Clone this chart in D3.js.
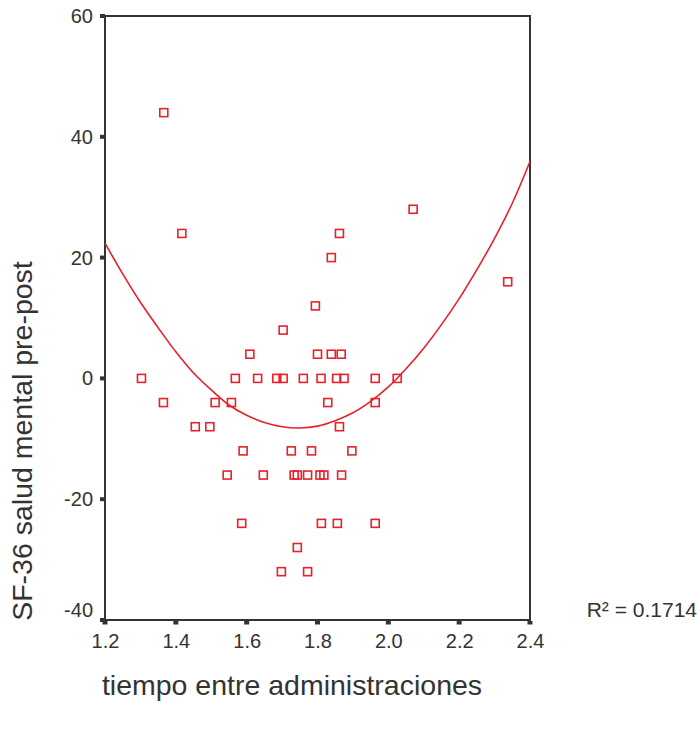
<!DOCTYPE html>
<html>
<head>
<meta charset="utf-8">
<script src="https://cdn.jsdelivr.net/npm/d3@7"></script>
<style>
  body { margin: 0; background: #fff; }
  text { font-family: "Liberation Sans", Arial, sans-serif; fill: #333; }
</style>
</head>
<body>
<div id="chart"></div>
<script>
/* --- データ --- */
const tiempo = [1.366, 1.417, 1.303, 1.365, 1.455, 1.496, 1.511, 1.557, 1.568, 1.609,
                1.631, 1.590, 1.545, 1.647, 1.586, 1.685, 1.703, 1.703, 1.698, 1.726,
                1.734, 1.743, 1.743, 1.760, 1.772, 1.772, 1.783, 1.794, 1.800, 1.810,
                1.807, 1.818, 1.811, 1.829, 1.839, 1.839, 1.862, 1.867, 1.854, 1.875,
                1.862, 1.868, 1.856, 1.897, 1.963, 1.963, 1.963, 2.025, 2.070, 2.337];
const saludMental = [44, 24, 0, -4, -8, -8, -4, -4, 0, 4,
                     0, -12, -16, -16, -24, 0, 0, 8, -32, -12,
                     -16, -16, -28, 0, -16, -32, -12, 12, 4, 0,
                     -16, -16, -24, -4, 20, 4, 24, 4, 0, 0,
                     -8, -16, -24, -12, 0, -4, -24, 0, 28, 16];

// curva cuadrática
const curvaX = [1.20, 1.25, 1.30, 1.35, 1.40, 1.45, 1.50, 1.55, 1.60, 1.65, 1.70, 1.75, 1.80,
                1.85, 1.90, 1.95, 2.00, 2.05, 2.10, 2.15, 2.20, 2.25, 2.30, 2.35, 2.40];
const curvaY = [22.4, 17.3, 12.6, 8.4, 4.4, 0.9, -1.9, -4.4, -6.1, -7.3, -8.0, -8.2, -7.9,
                -7.0, -5.7, -3.8, -1.4, 1.6, 5.0, 8.9, 13.2, 18.0, 23.2, 29.0, 35.9];

const xTicks = [1.2, 1.4, 1.6, 1.8, 2.0, 2.2, 2.4];
const yTicks = [-40, -20, 0, 20, 40, 60];
const r2Label = "R² = 0.1714";

/* --- ビューポート --- */
const width = 698, height = 729;
const margin = {top: 16, right: 168, bottom: 109, left: 105};

const svg = d3.select("#chart").append("svg")
    .attr("width", width)
    .attr("height", height);

const xScale = d3.scaleLinear().domain([1.2, 2.4]).range([margin.left, width - margin.right]);
const yScale = d3.scaleLinear().domain([-40, 60]).range([height - margin.bottom, margin.top]);

const axisColor = "#333";
const red = "#e8202a";

/*--- 枠 ---*/
svg.append("rect")
    .attr("x", xScale(1.2))
    .attr("y", yScale(60))
    .attr("width", xScale(2.4) - xScale(1.2))
    .attr("height", yScale(-40) - yScale(60))
    .attr("fill", "none")
    .attr("stroke", axisColor)
    .attr("stroke-width", 2);

/*--- 軸 ---*/
const xAxis = svg.append("g")
    .attr("transform", "translate(0," + yScale(-40) + ")")
    .call(d3.axisBottom(xScale).tickValues(xTicks).tickFormat(d3.format(".1f")).tickSize(0).tickPadding(14));
const yAxis = svg.append("g")
    .attr("transform", "translate(" + xScale(1.2) + ",0)")
    .call(d3.axisLeft(yScale).tickValues(yTicks).tickFormat(d => String(d)).tickSize(0).tickPadding(12));

[xAxis, yAxis].forEach(a => {
    a.select(".domain").remove();
    a.selectAll("text").attr("font-size", 20).attr("fill", axisColor)
        .style("font-family", "'Liberation Sans', Arial, sans-serif");
});
yAxis.selectAll(".tick").filter(d => d === -40).select("text").attr("dy", "-0.2em");

// marcas de graduación
svg.append("g").selectAll("rect")
    .data(xTicks)
    .join("rect")
    .attr("x", d => xScale(d) - 2.5)
    .attr("y", yScale(-40) + 1)
    .attr("width", 5)
    .attr("height", 3.5)
    .attr("fill", axisColor);
svg.append("g").selectAll("rect")
    .data(yTicks)
    .join("rect")
    .attr("x", xScale(1.2) - 5)
    .attr("y", d => yScale(d) - 2)
    .attr("width", 5)
    .attr("height", 4)
    .attr("fill", axisColor);

/*--- 曲線 ---*/
const line = d3.line()
    .x((d, i) => xScale(curvaX[i]))
    .y(d => yScale(d))
    .curve(d3.curveCatmullRom);

svg.append("path")
    .datum(curvaY)
    .attr("d", line)
    .attr("fill", "none")
    .attr("stroke", red)
    .attr("stroke-width", 1.6);

/*--- 点 ---*/
svg.append("g").selectAll("rect")
    .data(tiempo.map((t, i) => ({x: t, y: saludMental[i]})))
    .join("rect")
    .attr("x", d => xScale(d.x) - 4)
    .attr("y", d => yScale(d.y) - 4)
    .attr("width", 8)
    .attr("height", 8)
    .attr("fill", "none")
    .attr("stroke", red)
    .attr("stroke-width", 1.6);

/*--- ラベル ---*/
svg.append("text")
    .attr("transform", "translate(32," + 441 + ") rotate(-90)")
    .attr("text-anchor", "middle")
    .attr("font-size", 28.5)
    .text("SF-36 salud mental pre-post");

svg.append("text")
    .attr("x", 292)
    .attr("y", 695)
    .attr("text-anchor", "middle")
    .attr("font-size", 28.5)
    .text("tiempo entre administraciones");

svg.append("text")
    .attr("x", 697)
    .attr("y", 617)
    .attr("text-anchor", "end")
    .attr("font-size", 21)
    .text(r2Label);
</script>
</body>
</html>
